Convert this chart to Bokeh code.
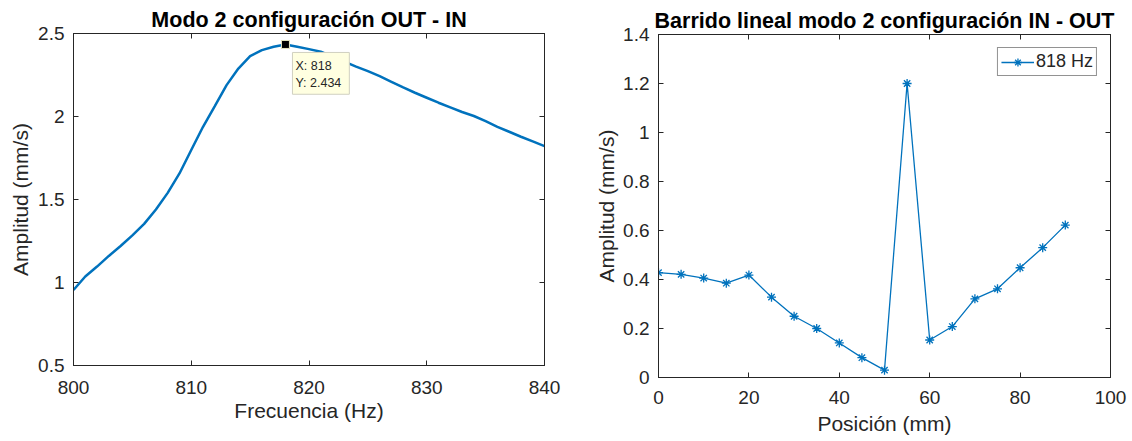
from bokeh.plotting import figure
from bokeh.models import LinearAxis, FixedTicker, Range1d, Label
from bokeh.embed import file_html
from bokeh.resources import INLINE

# ---- data ----
freq = list(range(800, 841))
amp_freq = [0.955, 1.036, 1.096, 1.16, 1.22, 1.284, 1.353, 1.44, 1.54, 1.657,
            1.798, 1.938, 2.063, 2.189, 2.289, 2.364, 2.40, 2.42, 2.434, 2.42,
            2.406, 2.39, 2.36, 2.33, 2.30, 2.273, 2.243, 2.209, 2.175, 2.143,
            2.113, 2.083, 2.055, 2.027, 2.003, 1.972, 1.938, 1.908, 1.878, 1.85,
            1.822]
tip_x = [818]
tip_y = [2.434]

pos_mm = [0, 5, 10, 15, 20, 25, 30, 35, 40, 45, 50, 55, 60, 65, 70, 75, 80, 85, 90]
amp_pos = [0.428, 0.421, 0.406, 0.385, 0.418, 0.328, 0.25, 0.20, 0.141, 0.081,
           0.03, 1.2, 0.153, 0.208, 0.321, 0.362, 0.448, 0.53, 0.622]

left_xticks = [800, 810, 820, 830, 840]
left_yticks = [0.5, 1, 1.5, 2, 2.5]
left_ylabels = ["0.5", "1", "1.5", "2", "2.5"]
right_xticks = [0, 20, 40, 60, 80, 100]
right_yticks = [0, 0.2, 0.4, 0.6, 0.8, 1, 1.2, 1.4]
right_ylabels = ["0", "0.2", "0.4", "0.6", "0.8", "1", "1.2", "1.4"]

FONT = "Liberation Sans"
AX = "#262626"
BLUE = "#0072BD"
TICK_FS = "19px"
LAB_FS = "21px"
TITLE_FS = "21.5px"


def style(p, xt, yt, ylabels, xstand, ystand, xlab_stand, ylab_stand, title_stand):
    p.xgrid.visible = False
    p.ygrid.visible = False
    p.outline_line_color = AX
    p.outline_line_width = 1
    p.xaxis.ticker = FixedTicker(ticks=xt)
    p.yaxis.ticker = FixedTicker(ticks=yt)
    p.yaxis.major_label_overrides = dict(zip(yt, ylabels))
    for ax in (p.xaxis[0], p.yaxis[0]):
        ax.axis_line_color = AX
        ax.major_tick_line_color = AX
        ax.major_tick_in = 5
        ax.major_tick_out = 0
        ax.minor_tick_line_color = None
        ax.major_label_text_font = FONT
        ax.major_label_text_font_size = TICK_FS
        ax.major_label_text_color = AX
        ax.axis_label_text_font = FONT
        ax.axis_label_text_font_size = LAB_FS
        ax.axis_label_text_font_style = "normal"
        ax.axis_label_text_color = AX
    p.xaxis.major_label_standoff = xstand
    p.yaxis.major_label_standoff = ystand
    p.xaxis.axis_label_standoff = xlab_stand
    p.yaxis.axis_label_standoff = ylab_stand
    for side, ticks in (("above", xt), ("right", yt)):
        ax = LinearAxis(ticker=FixedTicker(ticks=ticks),
                        major_label_text_font_size="1px",
                        major_label_text_color=None,
                        major_label_standoff=0,
                        major_tick_in=5, major_tick_out=0,
                        major_tick_line_color=AX,
                        minor_tick_line_color=None,
                        axis_line_color=AX)
        p.add_layout(ax, side)
    p.title.text_font = FONT
    p.title.text_font_size = TITLE_FS
    p.title.text_font_style = "bold"
    p.title.text_color = "#000000"
    p.title.align = "center"
    p.title.standoff = title_stand
    p.title.offset = 0


# ---- left plot ----
p1 = figure(width=592, height=441, output_backend="svg", toolbar_location=None,
            x_range=Range1d(800, 840), y_range=Range1d(0.5, 2.5),
            title="Modo 2 configuración OUT - IN",
            x_axis_label="Frecuencia (Hz)", y_axis_label="Amplitud (mm/s)",
            min_border_left=73, min_border_right=48,
            min_border_top=33, min_border_bottom=76)
style(p1, left_xticks, left_yticks, left_ylabels, 15, 9, 2, 3, 4)
p1.line(freq, amp_freq, line_color=BLUE, line_width=2.5)
p1.scatter(tip_x, tip_y, marker="square", size=8, fill_color="black",
           line_color="#E8E8C0", line_width=1)
p1.add_layout(Label(x=tip_x[0], y=tip_y[0], x_offset=7, y_offset=-8,
                    text=f"X: {tip_x[0]}\nY: {tip_y[0]}",
                    text_font=FONT, text_font_size="12.5px", text_color=AX,
                    text_align="left", text_baseline="top",
                    background_fill_color="#FFFFE1",
                    border_line_color="#D0D0C0", border_line_width=1,
                    padding=dict(left=3, right=8, top=7, bottom=4)))

# ---- right plot ----
p2 = figure(width=540, height=441, output_backend="svg", toolbar_location=None,
            x_range=Range1d(0, 100), y_range=Range1d(0, 1.4),
            title="Barrido lineal modo 2 configuración IN - OUT",
            x_axis_label="Posición (mm)", y_axis_label="Amplitud (mm/s)",
            min_border_left=64, min_border_right=22,
            min_border_top=34, min_border_bottom=64)
style(p2, right_xticks, right_yticks, right_ylabels, 13, 9, 5, 2, 3)
p2.line(pos_mm, amp_pos, line_color=BLUE, line_width=1.3, legend_label="818 Hz")
p2.scatter(pos_mm, amp_pos, marker="asterisk", size=9, line_color=BLUE,
           line_width=1.3, legend_label="818 Hz")
lg = p2.legend[0]
lg.location = "top_right"
lg.margin = 13
lg.padding = 3
lg.spacing = 0
lg.glyph_width = 33
lg.glyph_height = 20
lg.label_height = 20
lg.label_standoff = 2
lg.label_text_font = FONT
lg.label_text_font_size = "18px"
lg.label_text_color = AX
lg.border_line_color = AX
lg.border_line_width = 1
lg.background_fill_alpha = 1

# two independent roots side by side (no frame alignment between them)
SIDE_BY_SIDE = ("<style>body{display:flex !important;flex-direction:row;"
                "align-items:flex-start;margin:0;}</style></head>")
open("out.html", "w").write(file_html([p1, p2], INLINE).replace("</head>", SIDE_BY_SIDE, 1))
